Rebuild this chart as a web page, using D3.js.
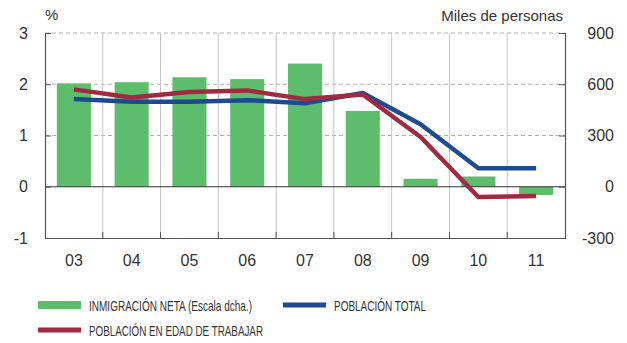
<!DOCTYPE html>
<html>
<head>
<meta charset="utf-8">
<script src="https://cdn.jsdelivr.net/npm/d3@7"></script>
<style>
  html, body { margin: 0; padding: 0; background: #fff; }
  svg { display: block; font-family: "Liberation Sans", Arial, sans-serif; }
</style>
</head>
<body>
<svg id="chart" width="627" height="343"></svg>
<script>
// Years (two-digit labels)
const years = ["03", "04", "05", "06", "07", "08", "09", "10", "11"];
// Net immigration, thousands of people (right axis)
const netImmigration = [605, 612, 641, 630, 721, 444, 47, 60, -48];
// Total population growth, % (left axis)
const totalPopulation = [1.71, 1.66, 1.66, 1.69, 1.63, 1.83, 1.22, 0.36, 0.36];
// Working-age population growth, % (left axis)
const workingAgePopulation = [1.90, 1.74, 1.85, 1.88, 1.71, 1.80, 0.97, -0.20, -0.18];
// Axis ticks
const leftTicks = [-1, 0, 1, 2, 3];
const rightTicks = [-300, 0, 300, 600, 900];

const colors = { green: "#5ebd6c", blue: "#1d4a91", red: "#a12a40", text: "#333333", axis: "#555555", grid: "#c4c4c8" };

const svg = d3.select("#chart");
const m = { left: 45, right: 565, top: 33, bottom: 238 };

const x = d3.scaleBand().domain(years).range([m.left, m.right]).padding(0);
const yL = d3.scaleLinear().domain([-1, 3]).range([m.bottom, m.top]);
const yR = d3.scaleLinear().domain([-300, 900]).range([m.bottom, m.top]);
const cx = d => x(d) + x.bandwidth() / 2;
const barW = x.bandwidth() * 0.59;
const plainNum = d => String(d); // hyphen-minus for negatives

// Horizontal dashed gridlines
svg.append("g").selectAll("line")
  .data(leftTicks.filter(t => t > 0))
  .join("line")
  .attr("x1", m.left).attr("x2", m.right)
  .attr("y1", d => yL(d)).attr("y2", d => yL(d))
  .attr("stroke", "#b0b0b4").attr("stroke-width", 1)
  .attr("stroke-dasharray", "4,3");

// Vertical gridlines between years
svg.append("g").selectAll("line")
  .data(years.slice(1))
  .join("line")
  .attr("x1", d => x(d)).attr("x2", d => x(d))
  .attr("y1", m.top).attr("y2", m.bottom)
  .attr("stroke", colors.grid).attr("stroke-width", 1);

// Net immigration bars
svg.append("g").selectAll("rect")
  .data(years.map((y, i) => ({ y, v: netImmigration[i] })))
  .join("rect")
  .attr("x", d => cx(d.y) - barW / 2)
  .attr("width", barW)
  .attr("y", d => yR(Math.max(0, d.v)))
  .attr("height", d => Math.abs(yR(d.v) - yR(0)))
  .attr("fill", colors.green);

// Zero line
svg.append("line")
  .attr("x1", m.left).attr("x2", m.right)
  .attr("y1", yL(0)).attr("y2", yL(0))
  .attr("stroke", "#333").attr("stroke-width", 1);

// Population lines
const line = d3.line().x(d => cx(d.y)).y(d => yL(d.v));
[[totalPopulation, colors.blue], [workingAgePopulation, colors.red]].forEach(([vals, c]) => {
  svg.append("path")
    .datum(years.map((y, i) => ({ y, v: vals[i] })))
    .attr("d", line)
    .attr("fill", "none")
    .attr("stroke", c)
    .attr("stroke-width", 4.5)
    .attr("stroke-linejoin", "round");
});

// Left axis
const gL = svg.append("g").attr("transform", `translate(${m.left},0)`)
  .call(d3.axisLeft(yL).tickValues(leftTicks).tickSize(-6).tickPadding(17).tickFormat(plainNum));
// Right axis
const gR = svg.append("g").attr("transform", `translate(${m.right},0)`)
  .call(d3.axisRight(yR).tickValues(rightTicks).tickSize(-6).tickPadding(0).tickFormat(plainNum));
// Bottom axis with ticks at year boundaries
const gB = svg.append("g").attr("transform", `translate(0,${m.bottom})`)
  .call(d3.axisBottom(x).tickSize(0).tickPadding(16));
gB.selectAll(".tick text").attr("dy", "0.75em");
svg.append("g").selectAll("line")
  .data(years.slice(1))
  .join("line")
  .attr("x1", d => x(d)).attr("x2", d => x(d))
  .attr("y1", m.bottom).attr("y2", m.bottom - 6)
  .attr("stroke", colors.axis);

[gL, gR, gB].forEach(g => {
  g.select(".domain").attr("stroke", colors.axis).attr("stroke-width", 1.2);
  g.selectAll(".tick line").attr("stroke", colors.axis);
  g.selectAll(".tick text").attr("fill", colors.text).style("font-size", "16px").style("font-family", "Liberation Sans, Arial, sans-serif");
});
gR.selectAll(".tick text").attr("text-anchor", "end").attr("x", 49);

// Axis unit labels
svg.append("text").attr("x", 45).attr("y", 20).text("%")
  .attr("fill", colors.text).style("font-size", "15px");
svg.append("text").attr("x", 563).attr("y", 21).attr("text-anchor", "end").text("Miles de personas")
  .attr("fill", colors.text).style("font-size", "15px");

// Legend
const legend = [
  { label: "INMIGRACIÓN NETA (Escala dcha.)", color: colors.green, h: 8, x: 38, y: 305, w: 163 },
  { label: "POBLACIÓN TOTAL", color: colors.blue, h: 5, x: 283, y: 305, w: 92 },
  { label: "POBLACIÓN EN EDAD DE TRABAJAR", color: colors.red, h: 5, x: 38, y: 330, w: 174 }
];
const lg = svg.append("g").selectAll("g").data(legend).join("g");
lg.append("rect")
  .attr("x", d => d.x).attr("y", d => d.y - d.h / 2)
  .attr("width", 43).attr("height", d => d.h)
  .attr("fill", d => d.color);
lg.append("text")
  .attr("x", d => d.x + 51).attr("y", d => d.y + 5.5)
  .attr("textLength", d => d.w).attr("lengthAdjust", "spacingAndGlyphs")
  .attr("fill", colors.text).style("font-size", "15px")
  .text(d => d.label);
</script>
</body>
</html>
